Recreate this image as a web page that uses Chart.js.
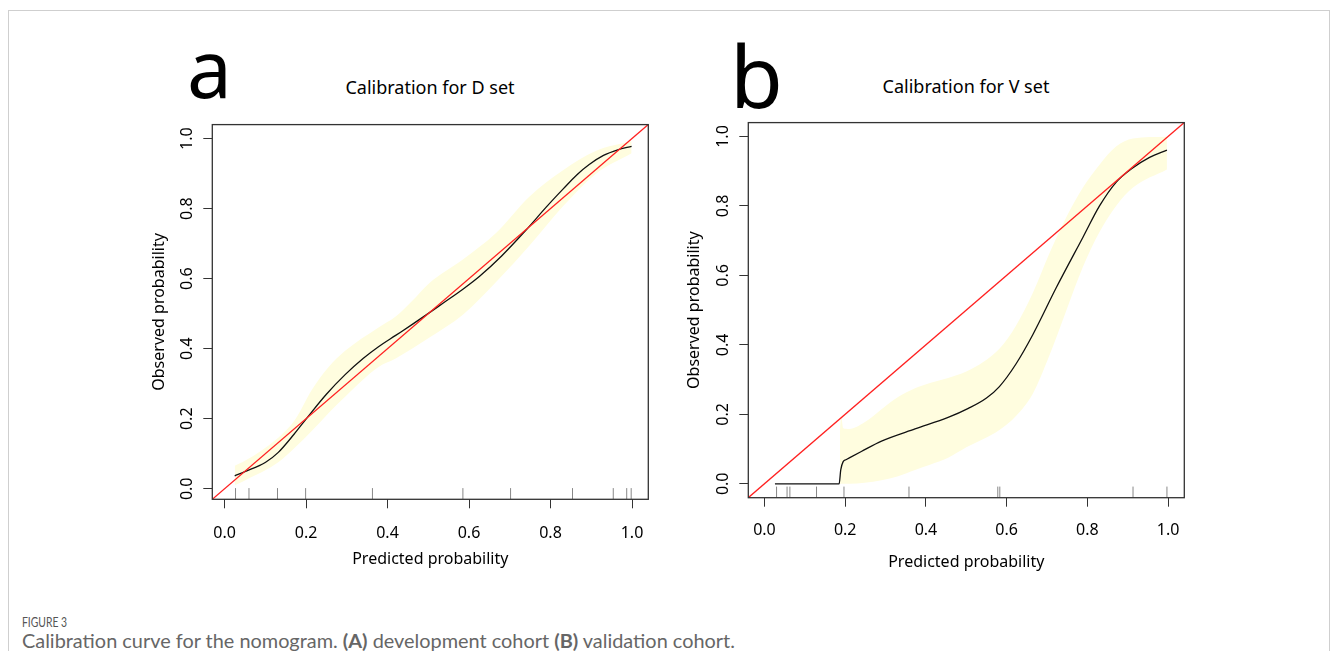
<!DOCTYPE html>
<html>
<head>
<meta charset="utf-8">
<script src="https://cdn.jsdelivr.net/npm/chart.js@4.4.0/dist/chart.umd.min.js"></script>
<style>
  body { margin: 0; width: 1330px; height: 651px; background: #fff; position: relative; overflow: hidden; font-family: "Noto Sans", sans-serif; }
  .frame { position: absolute; left: 8px; top: 10px; width: 1322px; height: 700px; border: 1px solid #cfcfcf; box-sizing: border-box; }
  canvas { position: absolute; }
  .letter { position: absolute; line-height: 1; color: #000; }
  .title { position: absolute; width: 436px; text-align: center; font-size: 18px; line-height: 1; color: #000; }
  .fig { position: absolute; left: 22px; top: 615px; font-family: Lato, sans-serif; font-size: 14px; line-height: 1; color: #555; transform: scaleX(0.74); transform-origin: left top; }
  .cap { position: absolute; left: 22px; top: 631px; font-family: Lato, sans-serif; font-size: 19.9px; line-height: 1; color: #666; }
</style>
</head>
<body>
<div class="frame"></div>

<div class="letter" style="left:187px; top:27px; font-size:80px;">a</div>
<div class="letter" style="left:730px; top:32px; font-size:86px;">b</div>
<div class="title" style="left:212px; top:78px;">Calibration for D set</div>
<div class="title" style="left:748px; top:77px;">Calibration for V set</div>

<canvas id="chartA" width="530" height="470" style="left:130px; top:110px;"></canvas>
<canvas id="chartB" width="530" height="470" style="left:666px; top:108px;"></canvas>

<div class="fig">FIGURE 3</div>
<div class="cap">Calibration curve for the nomogram. <b>(A)</b> development cohort <b>(B)</b> validation cohort.</div>

<script>
// 目盛り
const TICKS = [0.0, 0.2, 0.4, 0.6, 0.8, 1.0];

// D set (development)
const curveAX = [0.025, 0.05, 0.10, 0.132, 0.17, 0.202, 0.25, 0.296, 0.34, 0.377, 0.42, 0.459, 0.503, 0.536, 0.585, 0.626, 0.68, 0.74, 0.79, 0.83, 0.865, 0.895, 0.93, 0.965, 0.999];
const curveAY = [0.037, 0.049, 0.075, 0.104, 0.155, 0.202, 0.27, 0.326, 0.372, 0.405, 0.438, 0.468, 0.503, 0.53, 0.57, 0.607, 0.665, 0.739, 0.805, 0.855, 0.897, 0.926, 0.952, 0.968, 0.978];
const bandAX = [0.025, 0.05, 0.132, 0.173, 0.214, 0.255, 0.296, 0.377, 0.42, 0.459, 0.503, 0.585, 0.667, 0.748, 0.83, 0.912, 0.999];
const bandAUpper = [0.066, 0.080, 0.146, 0.197, 0.282, 0.347, 0.394, 0.460, 0.492, 0.535, 0.588, 0.655, 0.731, 0.834, 0.909, 0.965, 0.993];
const bandALower = [0.010, 0.024, 0.076, 0.118, 0.165, 0.216, 0.263, 0.347, 0.372, 0.399, 0.432, 0.497, 0.591, 0.694, 0.806, 0.900, 0.958];
const rugA = [0.027, 0.060, 0.130, 0.199, 0.363, 0.585, 0.702, 0.854, 0.954, 0.987, 0.998];

// V set (validation)
const curveBX = [0.026, 0.185, 0.189, 0.195, 0.203, 0.24, 0.29, 0.373, 0.455, 0.505, 0.55, 0.582, 0.623, 0.665, 0.723, 0.789, 0.83, 0.871, 0.913, 0.954, 0.997];
const curveBY = [0.0, 0.0, 0.040, 0.064, 0.070, 0.093, 0.123, 0.158, 0.191, 0.217, 0.247, 0.28, 0.345, 0.43, 0.565, 0.71, 0.80, 0.868, 0.91, 0.94, 0.961];
const bandBX = [0.187, 0.190, 0.195, 0.21, 0.248, 0.290, 0.331, 0.373, 0.41, 0.455, 0.500, 0.582, 0.623, 0.665, 0.706, 0.748, 0.789, 0.830, 0.871, 0.913, 0.997];
const bandBUpper = [0.15, 0.196, 0.160, 0.158, 0.177, 0.215, 0.250, 0.275, 0.290, 0.305, 0.323, 0.389, 0.455, 0.550, 0.664, 0.768, 0.853, 0.919, 0.971, 0.994, 0.999];
const bandBLower = [0.0, 0.0, 0.0, 0.0, 0.003, 0.010, 0.022, 0.040, 0.055, 0.075, 0.105, 0.155, 0.195, 0.260, 0.370, 0.500, 0.625, 0.725, 0.800, 0.853, 0.905];
const rugB = [0.030, 0.056, 0.063, 0.129, 0.197, 0.358, 0.578, 0.583, 0.913, 0.997];

const RUG_LEN = 0.032;
const BAND_COLOR = '#FFFDDF';

Chart.defaults.font.family = '"Noto Sans", sans-serif';
Chart.defaults.color = '#000';

// プロット枠
const boxPlugin = {
    id: 'box',
    afterDraw(chart) {
        const { ctx, chartArea: a } = chart;
        ctx.save();
        ctx.strokeStyle = '#333';
        ctx.lineWidth = 1.3;
        ctx.strokeRect(a.left, a.top, a.right - a.left, a.bottom - a.top);
        ctx.restore();
    }
};

function toPoints(xs, ys) {
    return xs.map((x, i) => ({ x: x, y: ys[i] }));
}

function makePanel(id, p) {
    const rugData = [];
    p.rug.forEach(v => {
        rugData.push({ x: v, y: p.min }, { x: v, y: p.min + RUG_LEN }, { x: v, y: null });
    });

    const tickCommon = {
        font: { size: 16 },
        color: '#000',
        callback: v => v.toFixed(1)
    };
    const gridCommon = {
        drawOnChartArea: false,
        drawTicks: true,
        tickLength: 9,
        color: '#333',
        lineWidth: 1
    };

    new Chart(document.getElementById(id), {
        type: 'line',
        data: {
            datasets: [
                {
                    data: toPoints(p.bandX, p.upper),
                    fill: '+1',
                    backgroundColor: BAND_COLOR,
                    borderWidth: 0,
                    pointRadius: 0,
                    cubicInterpolationMode: 'monotone'
                },
                {
                    data: toPoints(p.bandX, p.lower),
                    fill: false,
                    borderWidth: 0,
                    pointRadius: 0,
                    cubicInterpolationMode: 'monotone'
                },
                {
                    data: [{ x: p.min, y: p.min }, { x: p.max, y: p.max }],
                    borderColor: '#ff2020',
                    borderWidth: 1.3,
                    pointRadius: 0
                },
                {
                    data: toPoints(p.curveX, p.curveY),
                    borderColor: '#111',
                    borderWidth: 1.3,
                    pointRadius: 0,
                    cubicInterpolationMode: 'monotone'
                },
                {
                    data: rugData,
                    borderColor: '#888',
                    borderWidth: 1,
                    pointRadius: 0,
                    spanGaps: false
                }
            ]
        },
        options: {
            responsive: false,
            animation: false,
            devicePixelRatio: 1,
            layout: { padding: { top: p.padTop, right: p.padRight, left: 0, bottom: 0 } },
            plugins: {
                legend: { display: false },
                tooltip: { enabled: false },
                filler: { drawTime: 'beforeDatasetsDraw' }
            },
            scales: {
                x: {
                    type: 'linear',
                    min: p.min,
                    max: p.max,
                    afterBuildTicks: s => { s.ticks = TICKS.map(v => ({ value: v })); },
                    afterFit: s => { s.height = p.xh; },
                    ticks: Object.assign({ padding: p.xTickPad, maxRotation: 0 }, tickCommon),
                    grid: gridCommon,
                    border: { display: false },
                    title: {
                        display: true,
                        text: 'Predicted probability',
                        font: { size: 16 },
                        color: '#000',
                        padding: { top: 0, bottom: p.xTitlePad }
                    }
                },
                y: {
                    type: 'linear',
                    min: p.min,
                    max: p.max,
                    afterBuildTicks: s => { s.ticks = TICKS.map(v => ({ value: v })); },
                    afterFit: s => { s.width = p.yw; },
                    ticks: Object.assign({ padding: 5, minRotation: 90, maxRotation: 90, crossAlign: 'center' }, tickCommon),
                    grid: gridCommon,
                    border: { display: false },
                    title: {
                        display: true,
                        text: 'Observed probability',
                        font: { size: 16 },
                        color: '#000',
                        padding: { top: p.yTitlePad, bottom: 0 }
                    }
                }
            }
        },
        plugins: [boxPlugin]
    });
}

makePanel('chartA', {
    min: -0.03, max: 1.04,
    padTop: 9.3, padRight: 11.7, yw: 82.3, xh: 80.7,
    xTickPad: 16, xTitlePad: 11, yTitlePad: 20,
    curveX: curveAX, curveY: curveAY,
    bandX: bandAX, upper: bandAUpper, lower: bandALower,
    rug: rugA
});

makePanel('chartB', {
    min: -0.04, max: 1.04,
    padTop: 9.7, padRight: 11.7, yw: 82.3, xh: 80.3,
    xTickPad: 14, xTitlePad: 6, yTitlePad: 19,
    curveX: curveBX, curveY: curveBY,
    bandX: bandBX, upper: bandBUpper, lower: bandBLower,
    rug: rugB
});
</script>
</body>
</html>
